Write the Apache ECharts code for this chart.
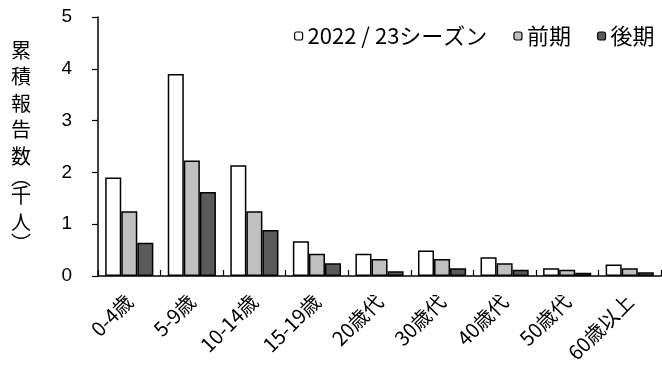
<!DOCTYPE html>
<html>
<head>
<meta charset="utf-8">
<script src="https://cdn.jsdelivr.net/npm/echarts@6/dist/echarts.min.js"></script>
<style>
  html, body { margin: 0; padding: 0; background: #fff; }
  #chart { width: 662px; height: 374px; }
</style>
</head>
<body>
<div id="chart"></div>
<script>
// Age groups on the category axis
const categories = ['0-4歳', '5-9歳', '10-14歳', '15-19歳', '20歳代', '30歳代', '40歳代', '50歳代', '60歳以上'];
// Cumulative reports (thousands)
const season2223 = [1.90, 3.90, 2.14, 0.67, 0.43, 0.49, 0.36, 0.15, 0.22];
const earlyPeriod = [1.25, 2.23, 1.25, 0.43, 0.33, 0.33, 0.245, 0.12, 0.15];
const latePeriod = [0.64, 1.62, 0.89, 0.245, 0.09, 0.15, 0.12, 0.065, 0.07];
const seriesNames = ['2022 / 23シーズン', '前期', '後期'];
const yTicks = { min: 0, max: 5, interval: 1 };
const yAxisTitle = ['累', '積', '報', '告', '数', '︵', '千', '人', '︶'];

const CJK = '"Noto Sans CJK JP", "Noto Sans", sans-serif';
const LATIN = '"Liberation Sans", Arial, sans-serif';
const fills = ['#ffffff', '#c0c0c0', '#5a5a5a'];
const values = [season2223, earlyPeriod, latePeriod];

// vertical axis title, one glyph per row; the bracket forms take half a row
const titleGraphics = [];
let ty = 40;
yAxisTitle.forEach(ch => {
  const half = (ch === '︵' || ch === '︶');
  titleGraphics.push({
    type: 'text', left: 11, top: half ? ty - 5 : ty,
    style: { text: ch, font: '20px ' + CJK, fill: '#000' }
  });
  ty += half ? 13 : 26.5;
});

const chart = echarts.init(document.getElementById('chart'), null, { renderer: 'canvas' });
chart.setOption({
  animation: false,
  backgroundColor: '#fff',
  grid: { left: 98, right: 1, top: 17, bottom: 98, containLabel: false },
  legend: {
    left: 289, top: 20,
    itemWidth: 8, itemHeight: 8, itemGap: 26,
    textStyle: { fontFamily: CJK, fontSize: 22, color: '#000' },
    data: seriesNames.map((n, i) => ({ name: n, itemStyle: { color: fills[i], borderColor: '#000', borderWidth: 1.2 } }))
  },
  xAxis: {
    type: 'category',
    data: categories,
    axisLine: { lineStyle: { color: '#000', width: 1.5 } },
    axisTick: { show: true, inside: true, length: 6, lineStyle: { color: '#000', width: 1.2 } },
    axisLabel: { rotate: 45, margin: 22, fontFamily: CJK, fontSize: 20, color: '#000', interval: 0 }
  },
  yAxis: {
    type: 'value',
    min: yTicks.min, max: yTicks.max, interval: yTicks.interval,
    axisLine: { show: true, lineStyle: { color: '#000', width: 1.5 } },
    axisTick: { show: true, length: 6, lineStyle: { color: '#000', width: 1.2 } },
    splitLine: { show: false },
    axisLabel: { margin: 26, fontFamily: LATIN, fontSize: 19, color: '#000' }
  },
  graphic: titleGraphics,
  series: seriesNames.map((n, i) => ({
    name: n,
    type: 'bar',
    data: values[i],
    barGap: '0%',
    barCategoryGap: '23%',
    itemStyle: { color: fills[i], borderColor: '#000', borderWidth: 1.5 }
  }))
});
</script>
</body>
</html>
